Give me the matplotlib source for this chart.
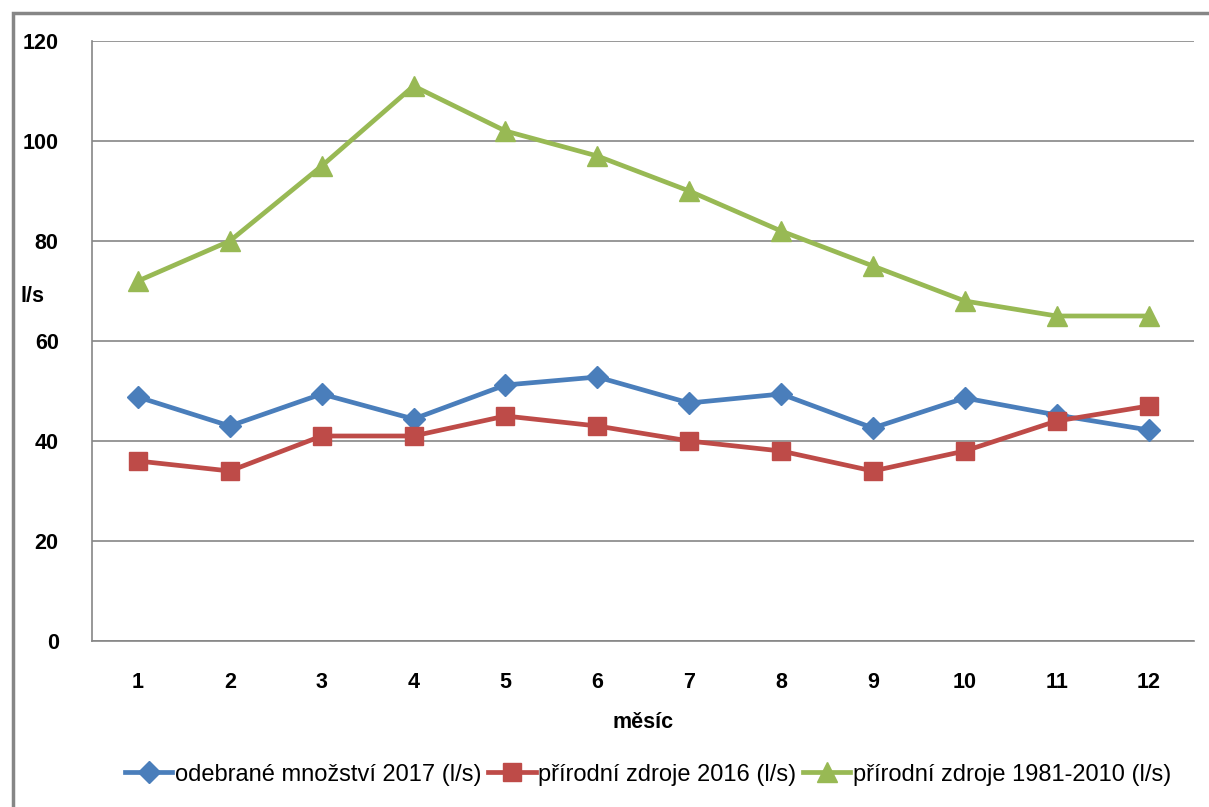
import matplotlib.pyplot as plt
from matplotlib.patches import Rectangle

months = [1, 2, 3, 4, 5, 6, 7, 8, 9, 10, 11, 12]
odebrane_2017 = [48.8, 43.0, 49.4, 44.4, 51.2, 52.8, 47.6, 49.4, 42.6, 48.6, 45.2, 42.2]
prirodni_2016 = [36, 34, 41, 41, 45, 43, 40, 38, 34, 38, 44, 47]
prirodni_1981 = [72, 80, 95, 111, 102, 97, 90, 82, 75, 68, 65, 65]

plt.rcParams['font.family'] = ['Liberation Sans', 'DejaVu Sans']

fig = plt.figure(figsize=(12.09, 8.07), dpi=100)
ax = fig.add_axes([0.0761, 0.2057, 0.9119, 0.7435])

ax.plot(months, odebrane_2017, color='#4A7EBB', lw=3.4, marker='D', ms=11,
        label='odebrané množství 2017 (l/s)')
ax.plot(months, prirodni_2016, color='#BE4B48', lw=3.4, marker='s', ms=13,
        label='přírodní zdroje 2016 (l/s)')
ax.plot(months, prirodni_1981, color='#98B954', lw=3.4, marker='^', ms=14,
        label='přírodní zdroje 1981-2010 (l/s)')

ax.set_xlim(0.5, 12.5)
ax.set_ylim(0, 120)
ax.set_yticks(range(0, 121, 20))
ax.set_xticks(months)
ax.grid(axis='y', color='#868686', lw=1.2)
ax.set_axisbelow(True)
ax.tick_params(length=0, labelsize=15.5, pad=22)
ax.tick_params(axis='y', pad=24)
for lab in ax.get_xticklabels() + ax.get_yticklabels():
    lab.set_fontweight('bold')
for s in ['top', 'right']:
    ax.spines[s].set_visible(False)
for s in ['left', 'bottom']:
    ax.spines[s].set_color('#868686')
    ax.spines[s].set_linewidth(1.2)

ax.set_xlabel('měsíc', fontsize=15.5, fontweight='bold', labelpad=14)
fig.text(0.027, 0.632, 'l/s', fontsize=15.5, fontweight='bold', ha='center', va='center')

fig.legend(loc='center', bbox_to_anchor=(0.536, 0.04), ncol=3, frameon=False,
           fontsize=17, handlelength=2.0, handletextpad=0.1, columnspacing=0.3)

fig.patches.append(Rectangle((0.0105, -0.01), 1.0, 1.0 - 0.016 + 0.01, transform=fig.transFigure,
                             fill=False, edgecolor='#868686', lw=2.5))

fig.savefig('out.png', dpi=100)
